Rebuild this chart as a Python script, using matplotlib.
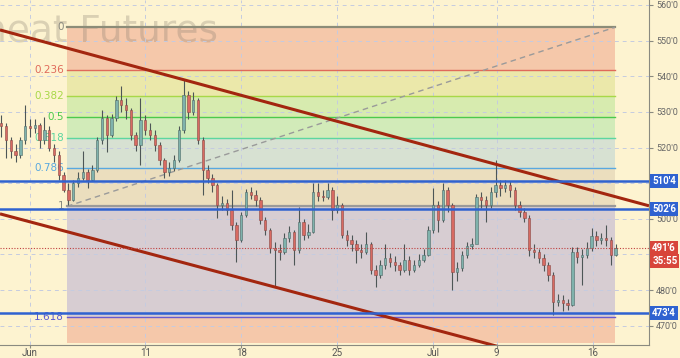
import matplotlib

matplotlib.use("Agg")
import matplotlib.pyplot as plt
import matplotlib.transforms as mtransforms
import numpy as np

# ---- data (prices in cents/bu, x in trading days from Jun 1) ----
bar_start = -1.5
bar_step = 0.25
first_open = 527.0
closes = [526, 522, 519, 518, 522, 526, 525.5, 526.4, 522.2, 525,
          520, 518, 512.3, 508, 505.3, 510, 511.5, 513, 511, 513.7,
          522.2, 528.3, 523.6, 528.3, 533.4, 532, 530.6, 523.6, 520.8, 527.8,
          525, 523.6, 520.8, 516.5, 513.2, 514.3, 516.5, 525, 534.8, 530,
          533.4, 522.2, 513.7, 511.5, 509.5, 503.9, 504.5, 502.5, 498.3, 494.1,
          501.1, 507.6, 506.7, 505.3, 499.7, 496.9, 491.9, 491.3, 490.8, 494.7,
          496.4, 491.3, 499.1, 495.6, 496.4, 507.6, 506.5, 506.2, 508.1, 502.5,
          503.9, 495.6, 494.1, 492.8, 491.3, 490.8, 492.8, 485.7, 484.3, 487.1,
          489.1, 488, 487.1, 485.7, 488.5, 485.7, 487.1, 488.5, 489.9, 496.9,
          503.9, 499.7, 508.1, 503.9, 485.1, 486.3, 489.9, 492.4, 492.8, 506,
          505.3, 503.9, 507.6, 509.5, 508.7, 509.5, 508.1, 503.9, 502, 500.3,
          491.3, 490.8, 489.1, 487.1, 484.3, 476.7, 477.3, 476.5, 475.9, 490.8,
          489.4, 489.9, 491.9, 495.3, 494.1, 494.6, 494.1, 489.9, 491.75]
highs = [529, 527, 523, 521, 523, 532, 528, 528, 527, 528.6,
         526, 521, 519, 513, 510, 511, 513, 519, 514, 515,
         523, 530.6, 529, 529.5, 534.5, 537.3, 534, 531, 524.5, 533.9,
         529, 527, 525, 521.5, 517, 516, 518, 526, 539, 536,
         535.5, 534, 523, 515, 512.5, 510, 506.5, 505.5, 508.1, 499,
         502, 508.5, 509, 508, 506, 500.5, 497.5, 493.5, 493, 496,
         498, 497, 503.3, 500, 498.5, 510.1, 510.1, 508, 510.1, 509,
         506.5, 504.5, 497, 495.5, 494, 493, 496.4, 493.5, 487, 488.5,
         492.8, 490.5, 489.5, 488, 492.8, 489.5, 488.5, 490, 491.5, 498,
         508.7, 505, 510.1, 509, 504.5, 488, 491, 493.5, 494.5, 507,
         507.5, 506.5, 509, 516.5, 511, 511, 510.5, 509, 505, 503,
         501, 493, 491.5, 490, 488, 485, 479, 478.5, 477.5, 492,
         492, 491.5, 493.5, 497.5, 496.5, 496, 498.3, 495, 493]
lows = [523, 517, 517, 516, 517, 521, 523, 524, 520, 521,
        519, 516, 511, 507.5, 504, 505, 509, 511, 508.7, 510.5,
        513, 521, 518.8, 523, 527.5, 530, 528, 522, 519, 515.1,
        523.5, 522, 519, 515, 511.5, 512, 513.5, 516, 524, 528,
        529, 521, 506.7, 510, 507.5, 500.3, 502.5, 501, 497, 488,
        493.5, 500.5, 505.5, 503.5, 498.5, 495.5, 490.5, 481.2, 488.5, 490,
        493.5, 487.1, 490.5, 494, 494.5, 496, 505, 505, 505.5, 499.7,
        501.5, 494.5, 492.5, 491, 487.5, 489, 490, 484.5, 481, 483.5,
        486, 486.5, 485.5, 484.3, 485, 484.3, 485, 486.5, 488, 489.5,
        496, 496.4, 499, 502, 480.1, 482.5, 485.5, 489, 491.5, 496.9,
        503, 499.1, 503, 506, 506.5, 507.5, 506, 502.5, 500.5, 499,
        489.5, 489, 487.5, 485.5, 482.5, 473.1, 475.5, 474, 474.5, 475.5,
        487.5, 481.5, 489, 491, 492.5, 493, 492.5, 487.1, 489.5]

# fibonacci retracement anchors (day, price)
fib_start = (1.93, 503.5)
fib_end = (30.47, 553.75)
fib_levels = [0, 0.236, 0.382, 0.5, 0.618, 0.786, 1, 1.618]
fib_labels = ["0", "0.236", "0.382", "0.5", "0.618", "0.786", "1", "1.618"]
fib_line_colors = ["#8c8c78", "#e06a5a", "#a8d848", "#4cc94c", "#5cd6a0", "#58a8e0", "#9a9a9a", "#6a5acd"]
fib_fill_colors = ["#f5c8aa", "#ebe8aa", "#d7ebaf", "#d2ebb9", "#d7e1d2", "#ebdebe", "#d7cdd2", "#f5c8aa"]
fib_floor = 465.3

# channel lines
upper_channel = [(-1.5625, 553.0), (32.24, 503.65)]
lower_channel = [(-1.5625, 501.4), (32.24, 452.9)]

# horizontal levels and axis tags
levels = [510.5, 502.75, 473.5]
level_tags = ["510'4", "502'6", "473'4"]
last_price = 491.75
last_tag = "491'6"
timer_tag = "35:55"

tick_days = [0, 6, 11, 16, 21, 24.3, 29.3]
tick_labels = ["Jun", "11", "18", "25", "Jul", "9", "16"]
price_ticks = [470, 480, 490, 500, 510, 520, 530, 540, 550, 560]

BG = "#fdf3d0"
BLUE = "#2f62d0"
RED_TAG = "#d8453a"
TAG_FONT = ["Roboto", "DejaVu Sans"]

fig = plt.figure(figsize=(6.8, 3.58), dpi=100)
fig.patch.set_facecolor(BG)
ax = fig.add_axes([0, 13 / 358, 649 / 680, 345 / 358])
ax.set_facecolor(BG)
ax.set_xlim(-1.5625, 32.24)
ax.set_ylim(464.6, 561.4)

# fib zones
x0, p1 = fib_start
x1, p0 = fib_end
rng = p0 - p1
prices = [p0 - lv * rng for lv in fib_levels]
bounds = prices + [fib_floor]
for i, col in enumerate(fib_fill_colors):
    ax.fill_between([x0, x1], bounds[i + 1], bounds[i], color=col, lw=0, zorder=0.5)
for pr, lab, col in zip(prices, fib_labels, fib_line_colors):
    lw = 1.6 if lab in ("0", "1") else 1.0
    ax.plot([x0, x1], [pr, pr], color=col, lw=lw, zorder=2)
    tcol = "#5a5ad0" if lab == "1.618" else col
    if lab in ("0", "1"):
        tcol = "#8a8a80"
    ax.text(x0 - 0.16, pr, lab, color=tcol, fontsize=7.5, ha="right", va="center", zorder=3)
ax.plot([x0, x1], [p1, p0], color="#9a9a9a", lw=1, ls=(0, (4, 3)), zorder=2)

# watermark
ax.text(218 / 649, 1 - 42 / 345, "Wheat Futures", transform=ax.transAxes, fontsize=27,
        color="#8a7f70", alpha=0.3, ha="right", va="baseline", zorder=1.2)

# grid
ax.set_xticks(tick_days)
ax.set_xticklabels(tick_labels, fontfamily=TAG_FONT)
ax.set_yticks(price_ticks)
ax.set_yticklabels([f"{p}'0" if p not in (490, 510) else "" for p in price_ticks],
                   fontfamily=TAG_FONT)
ax.set_axisbelow("line")
ax.grid(True, color="#c5cbe0", lw=0.7, ls=(0, (4, 4)))

# candles
n = len(closes)
days = bar_start + bar_step * np.arange(n)
opens = np.array([first_open] + closes[:-1])
closes_a = np.array(closes)
up = closes_a >= opens
ax.vlines(days, lows, highs, color="#4d5656", lw=0.8, zorder=3)
body_bottom = np.minimum(opens, closes_a)
body_h = np.maximum(np.abs(closes_a - opens), 0.3)
ax.bar(days[up], body_h[up], bottom=body_bottom[up], width=0.12,
       color="#7fb2ac", edgecolor="#4d6a68", lw=0.4, zorder=4)
ax.bar(days[~up], body_h[~up], bottom=body_bottom[~up], width=0.12,
       color="#d86a62", edgecolor="#8a4a46", lw=0.4, zorder=4)

# channel lines
for line in (upper_channel, lower_channel):
    xs, ys = zip(*line)
    ax.plot(xs, ys, color="#a3260f", lw=2.2, zorder=5, solid_capstyle="butt")

# horizontal levels
for lv in levels:
    ax.axhline(lv, color=BLUE, lw=1.8, zorder=5)
ax.axhline(last_price, color="#c04040", lw=0.8, ls=(0, (1, 1.5)), zorder=5)

# axes styling
for s in ("left", "top"):
    ax.spines[s].set_visible(False)
ax.spines["right"].set_color("#8a8a80")
ax.spines["bottom"].set_color("#8a8a80")
ax.yaxis.tick_right()
ax.tick_params(axis="y", colors="#8a8a80", labelcolor="#666666", labelsize=6.5, length=3, pad=2)
ax.tick_params(axis="x", colors="#8a8a80", labelcolor="#555555", labelsize=7, length=2, pad=0.5)

# price tags on the right axis
trans = mtransforms.blended_transform_factory(ax.transAxes, ax.transData)
tags = list(zip(levels, level_tags, [BLUE] * 3)) + [
    (last_price, last_tag, RED_TAG), (last_price - 3.7, timer_tag, RED_TAG)]
for lv, tag, fc in tags:
    ax.text(1.005, lv, tag, transform=trans, fontsize=7, color="white", fontweight="bold",
            family=TAG_FONT, ha="left", va="center", clip_on=False, zorder=6,
            bbox=dict(boxstyle="square,pad=0.2", fc=fc, ec="none"))

fig.savefig("out.png", dpi=100, facecolor=BG)
